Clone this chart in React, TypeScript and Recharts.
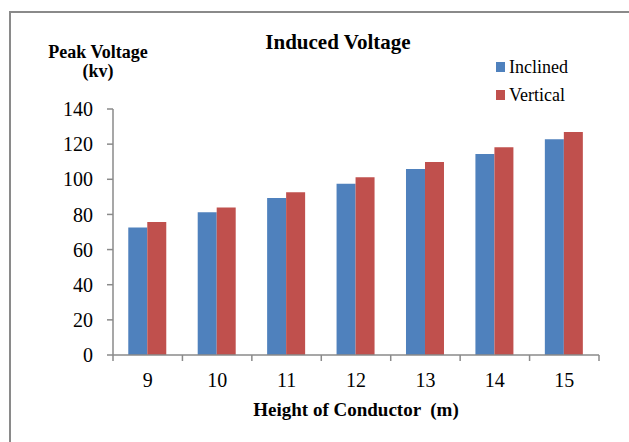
import { BarChart, Bar, XAxis, YAxis } from "recharts";

const categories = ["9", "10", "11", "12", "13", "14", "15"];
const inclinedValues = [72.5, 81.2, 89.4, 97.5, 105.9, 114.4, 122.8];
const verticalValues = [75.7, 84.0, 92.6, 101.1, 109.8, 118.2, 126.9];
const yTicks = [0, 20, 40, 60, 80, 100, 120, 140];

const seriesNames = ["Inclined", "Vertical"];
const seriesColors = ["#4F81BD", "#C0504D"];

const data = categories.map((height, i) => ({
    height,
    inclined: inclinedValues[i],
    vertical: verticalValues[i],
}));

const font = "'Liberation Serif', 'Times New Roman', serif";
const axisColor = "#8a8a8a";

// x ticks sit on the category boundaries, not the centres
const BoundaryTick = (props: any) => {
    const { x, y, payload, index, width, visibleTicksCount } = props;
    const band = width / visibleTicksCount;
    const axisY = y - 18;
    const left = x - band / 2;
    return (
        <g>
            <line x1={left} y1={axisY} x2={left} y2={axisY + 6} stroke={axisColor} strokeWidth={1.5} />
            {index === visibleTicksCount - 1 && (
                <line x1={left + band} y1={axisY} x2={left + band} y2={axisY + 6} stroke={axisColor} strokeWidth={1.5} />
            )}
            <text x={x} y={y} dy="0.71em" textAnchor="middle" fontSize={20} fontFamily={font} fill="#000">
                {payload.value}
            </text>
        </g>
    );
};

const App = () => {
    return (
        <div style={{ position: "absolute", left: 0, top: 0, width: 629, height: 442, background: "#fff", fontFamily: font }}>
            <div
                style={{
                    position: "absolute",
                    left: 9,
                    top: 11,
                    width: 620,
                    height: 431,
                    boxSizing: "border-box",
                    borderTop: `2px solid ${axisColor}`,
                    borderLeft: `2px solid ${axisColor}`,
                }}
            />
            <BarChart
                width={629}
                height={442}
                data={data}
                margin={{ top: 109, right: 30, bottom: 27, left: 0 }}
                barCategoryGap="22%"
                barGap={0}
            >
                <XAxis
                    dataKey="height"
                    height={60}
                    tickLine={false}
                    tickSize={6}
                    tickMargin={12}
                    axisLine={{ stroke: axisColor, strokeWidth: 1.5 }}
                    tick={<BoundaryTick />}
                    interval={0}
                />
                <YAxis
                    width={113}
                    domain={[0, 140]}
                    ticks={yTicks}
                    tickSize={6}
                    tickMargin={14}
                    tickLine={{ stroke: axisColor, strokeWidth: 1.5 }}
                    axisLine={{ stroke: axisColor, strokeWidth: 1.5 }}
                    tick={{ fontSize: 20, fontFamily: font, fill: "#000" }}
                />
                <Bar dataKey="inclined" name={seriesNames[0]} fill={seriesColors[0]} isAnimationActive={false} />
                <Bar dataKey="vertical" name={seriesNames[1]} fill={seriesColors[1]} isAnimationActive={false} />
            </BarChart>

            <div style={{ position: "absolute", left: 238, top: 32, width: 200, textAlign: "center", fontSize: 21, fontWeight: "bold", lineHeight: "21px" }}>
                Induced Voltage
            </div>
            <div style={{ position: "absolute", left: 38, top: 43, width: 120, textAlign: "center", fontSize: 18, fontWeight: "bold", lineHeight: "19px" }}>
                Peak Voltage
                <br />
                (kv)
            </div>
            <div style={{ position: "absolute", left: 236, top: 400, width: 240, textAlign: "center", fontSize: 19, fontWeight: "bold", lineHeight: "19px", whiteSpace: "pre" }}>
                {"Height of Conductor  (m)"}
            </div>

            {seriesNames.map((name, i) => (
                <div key={name} style={{ position: "absolute", left: 496, top: 58 + i * 28, height: 18, display: "flex", alignItems: "center", fontSize: 18, lineHeight: "18px" }}>
                    <span style={{ display: "inline-block", width: 9, height: 10, background: seriesColors[i], marginRight: 4 }} />
                    {name}
                </div>
            ))}
        </div>
    );
};

export default App;
